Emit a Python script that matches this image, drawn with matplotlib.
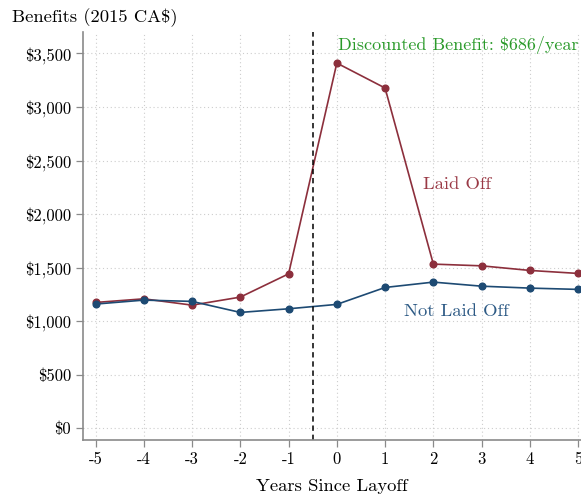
import matplotlib
matplotlib.use("Agg")
import matplotlib.pyplot as plt
from matplotlib.ticker import FuncFormatter

# data
years = [-5, -4, -3, -2, -1, 0, 1, 2, 3, 4, 5]
laid_off = [1175, 1209, 1150, 1225, 1442, 3410, 3177, 1533, 1517, 1474, 1446]
not_laid_off = [1160, 1197, 1185, 1082, 1116, 1157, 1315, 1365, 1327, 1309, 1297]
yticks = [0, 500, 1000, 1500, 2000, 2500, 3000, 3500]

red = '#8c2f3c'
blue = '#1d4a73'
green = '#2a9a2a'

plt.rcParams['font.family'] = 'cmr10'
plt.rcParams['axes.unicode_minus'] = False
plt.rcParams['axes.formatter.use_mathtext'] = True

fig = plt.figure(figsize=(5.81, 4.98), dpi=100)
ax = fig.add_axes([83/581, 58/498, 498/581, 408/498])

ax.plot(years, laid_off, color=red, lw=1.2, marker='o', ms=4.8)
ax.plot(years, not_laid_off, color=blue, lw=1.2, marker='o', ms=4.8)
ax.axvline(-0.5, color='black', lw=1.1, ls=(0, (3.5, 2.5)))

ax.set_xlim(-5.26, 5.06)
ax.set_ylim(-109, 3700)
ax.set_xticks(years)
ax.set_xticklabels([str(y) for y in years])
ax.set_yticks(yticks)
ax.yaxis.set_major_formatter(FuncFormatter(lambda v, p: '\\$' + format(int(v), ',')))

ax.grid(True, color='#cdcdcd', ls=(0, (1, 2.5)), lw=0.8)
for s in ['top', 'right']:
    ax.spines[s].set_visible(False)
for s in ['left', 'bottom']:
    ax.spines[s].set_color('#8a8a8a')
    ax.spines[s].set_linewidth(1.2)
ax.tick_params(colors='#8a8a8a', labelcolor='black', labelsize=12, length=5, width=0.9)

ax.set_xlabel('Years Since Layoff', fontsize=13.4, labelpad=8)
fig.text(12/581, 1 - 18/498, 'Benefits (2015 CA\\$)', fontsize=13.4, va='center', ha='left')

ax.text(0.03, 3576, 'Discounted Benefit: \\$686/year', color=green, fontsize=13,
        va='center', ha='left')
ax.text(1.79, 2280, 'Laid Off', color='#9a3a46', fontsize=13.4, va='center', ha='left')
ax.text(1.39, 1088, 'Not Laid Off', color='#2d5a85', fontsize=13.4, va='center', ha='left')

plt.savefig('out.png', dpi=100)
